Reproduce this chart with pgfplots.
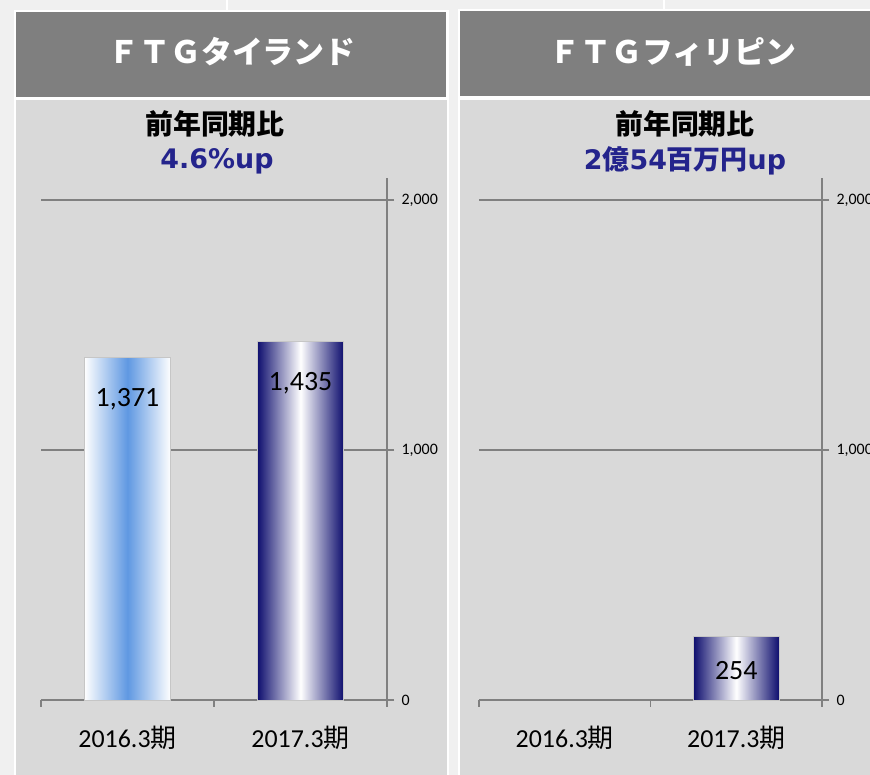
\documentclass[border=0pt]{standalone}
\usepackage{pgfplots}
\pgfplotsset{compat=1.18}
\usepackage{fontspec}
\setmainfont{Carlito}
\newfontfamily\jp{Noto Sans CJK JP}
\newfontfamily\dv{DejaVu Sans}
\definecolor{outbg}{RGB}{240,240,240}
\definecolor{headgray}{RGB}{127,127,127}
\definecolor{bodygray}{RGB}{217,217,217}
\definecolor{axgray}{RGB}{128,128,128}
\definecolor{titleblue}{RGB}{36,36,140}
\definecolor{lightbar}{RGB}{95,152,226}
\definecolor{navybar}{RGB}{14,14,110}

\pgfplotsset{panel/.style={
  scale only axis, height=522bp, ymin=0, ymax=2088,
  xmin=-0.5, xmax=1.5,
  axis y line*=right, axis x line*=bottom,
  axis line style={draw=axgray, line width=1.5bp},
  ytick={0,1000,2000}, ymajorgrids,
  grid style={draw=axgray, line width=1.5bp},
  yticklabel style={font=\fontsize{16}{16}\selectfont, xshift=4bp},
  /pgf/number format/1000 sep={,},
  /pgf/number format/assume math mode=true,
  xtick={-0.5,0.5,1.5}, xticklabels={},
  extra x ticks={0,1},
  extra x tick labels={2016.3{\jp 期},2017.3{\jp 期}},
  extra x tick style={major tick length=0pt,
    xticklabel style={font=\fontsize{26}{26}\selectfont, yshift=-23bp}},
  tick style={draw=axgray, line width=1.5bp},
  major tick length=7bp, tick align=outside,
  ybar, bar width=0.5,
  nodes near coords,
  every node near coord/.append style={font=\fontsize{28}{28}\selectfont,
    anchor=center, text=black},
  clip=false,
}}

\begin{document}
\begin{tikzpicture}[x=1bp,y=1bp]
\path[use as bounding box] (0,0) rectangle (870,775);
\begin{scope}
\clip (0,0) rectangle (870,775);
\fill[outbg] (0,0) rectangle (870,775);
\draw[white, line width=1.5bp] (227,765) -- (227,775) (664,765) -- (664,775);
% left panel
\fill[white] (14,765) rectangle (449,0);
\fill[headgray] (16,763) rectangle (446,678);
\fill[bodygray] (16,675) rectangle (447,0);
% right panel
\fill[white] (458,766) rectangle (895,0);
\fill[headgray] (460,764) rectangle (893,679);
\fill[bodygray] (460,675) rectangle (893,0);
\end{scope}

\node[text=white, font=\jp\bfseries\fontsize{31}{31}\selectfont] at (232,723) {ＦＴＧタイランド};
\node[text=white, font=\jp\bfseries\fontsize{31}{31}\selectfont] at (673,723) {ＦＴＧフィリピン};
\node[font=\jp\bfseries\fontsize{28}{28}\selectfont] at (215,651) {前年同期比};
\node[text=titleblue, font=\dv\bfseries\fontsize{27}{27}\selectfont] at (217,614) {4.6\%up};
\node[font=\jp\bfseries\fontsize{28}{28}\selectfont] at (685,651) {前年同期比};
\node[text=titleblue, font=\dv\bfseries\fontsize{27}{27}\selectfont] at (685,614)
  {2{\jp 億}54{\jp 百万円}up};

\begin{axis}[panel, width=346bp, at={(41bp,75bp)}, anchor=south west,
  every node near coord/.append style={yshift=-42bp}]
\addplot[bar shift=0pt, draw=gray!45, line width=0.6bp,
  left color=white, right color=white, middle color=lightbar]
  coordinates {(0,1371)};
\addplot[bar shift=0pt, draw=gray!45, line width=0.6bp,
  left color=navybar, right color=navybar, middle color=white]
  coordinates {(1,1435)};
\end{axis}

\begin{scope}
\clip (0,0) rectangle (870,775);
\begin{axis}[panel, width=343bp, at={(479bp,75bp)}, anchor=south west,
  every node near coord/.append style={yshift=-34bp}]
\addplot[bar shift=0pt, draw=gray!45, line width=0.6bp,
  left color=navybar, right color=navybar, middle color=white]
  coordinates {(1,254)};
\end{axis}
\end{scope}
\end{tikzpicture}
\end{document}
